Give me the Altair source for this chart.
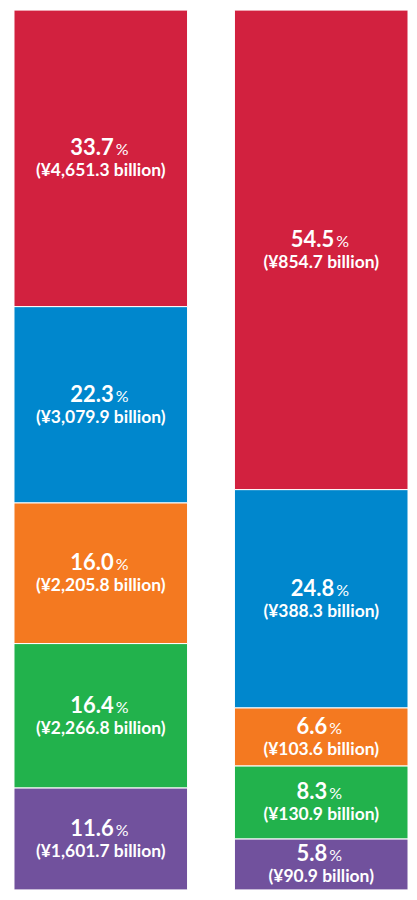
import altair as alt
import pandas as pd

bars = ["A", "A", "A", "A", "A", "B", "B", "B", "B", "B"]
segments = ["purple", "green", "orange", "blue", "red"] * 2
orders = [0, 1, 2, 3, 4] * 2
pcts = [11.6, 16.4, 16.0, 22.3, 33.7, 5.8, 8.3, 6.6, 24.8, 54.5]
pct_labels = ["11.6", "16.4", "16.0", "22.3", "33.7", "5.8", "8.3", "6.6", "24.8", "54.5"]
amounts = ["(¥1,601.7 billion)", "(¥2,266.8 billion)", "(¥2,205.8 billion)",
           "(¥3,079.9 billion)", "(¥4,651.3 billion)",
           "(¥90.9 billion)", "(¥130.9 billion)", "(¥103.6 billion)",
           "(¥388.3 billion)", "(¥854.7 billion)"]

seg_domain = ["purple", "green", "orange", "blue", "red"]
seg_colors = ["#71519D", "#22B24C", "#F47920", "#0087CD", "#D2213F"]

df = pd.DataFrame({
    "bar": bars, "segment": segments, "order": orders,
    "pct": pcts, "pct_label": pct_labels, "amount": amounts,
})

FONT = "Lato"

base = alt.Chart(df).transform_stack(
    stack="pct", groupby=["bar"], sort=[alt.SortField("order")], as_=["y0", "y1"]
).transform_calculate(
    mid="(datum.y0 + datum.y1) / 2",
    nlen="length(datum.pct_label)",
)

x_enc = alt.X("bar:N", axis=None,
              scale=alt.Scale(paddingInner=0.2127, paddingOuter=0.013575, align=1))
y_scale = alt.Scale(domain=[0, 100], nice=False, zero=True)

rects = base.mark_bar(stroke="white", strokeWidth=1).encode(
    x=x_enc,
    y=alt.Y("y0:Q", axis=None, scale=y_scale),
    y2="y1:Q",
    color=alt.Color("segment:N", legend=None,
                    scale=alt.Scale(domain=seg_domain, range=seg_colors)),
)

def num_layer(n, dx):
    t = base.transform_filter(f"datum.nlen == {n}")
    num = t.mark_text(font=FONT, fontWeight="bold", fontSize=22, color="white",
                      align="right", baseline="alphabetic", dx=dx, dy=-3).encode(
        x=x_enc, y=alt.Y("mid:Q", scale=y_scale), text="pct_label:N")
    pc = t.mark_text(font=FONT, fontWeight="normal", fontSize=16, color="white",
                     align="left", baseline="alphabetic", dx=dx + 2, dy=-3).encode(
        x=x_enc, y=alt.Y("mid:Q", scale=y_scale), text=alt.value("%"))
    return num + pc

amt = base.mark_text(font=FONT, fontWeight="bold", fontSize=17.5, color="white",
                     align="center", baseline="alphabetic", dy=18).encode(
    x=x_enc, y=alt.Y("mid:Q", scale=y_scale), text="amount:N")

chart = alt.layer(rects, num_layer(4, 13), num_layer(3, 6), amt).properties(
    width=401, height=882, padding=0
).configure_view(strokeWidth=0)

chart.save("out.html", embed_options={"renderer": "svg", "actions": False})
